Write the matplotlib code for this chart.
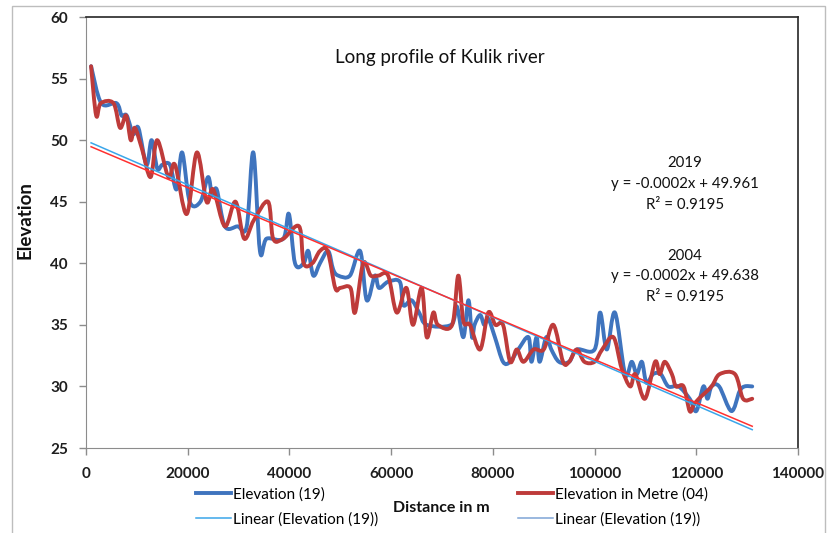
import numpy as np
import matplotlib
matplotlib.use("Agg")
import matplotlib.pyplot as plt
from matplotlib.path import Path
from matplotlib.patches import PathPatch, Rectangle
from matplotlib.lines import Line2D

plt.rcParams['font.family'] = ['Lato', 'DejaVu Sans']

# 2019 profile (distance m, elevation)
DIST_19 = [1000, 3000, 6000, 7000, 8000, 9300, 10300, 11900, 12900, 14000,
           15000, 16500, 17800, 18900, 20400, 22500, 24000, 24800, 25700, 27300,
           29800, 31600, 32900, 34200, 35500, 38800, 39900, 41100, 42800, 43700,
           44700, 46000, 47600, 48600, 49600, 51900, 53900, 55200, 56800, 57600,
           59400, 61700, 62400, 64000, 65500, 67000, 71800, 72900, 74200, 75200,
           75900, 76400, 77500, 78300, 79100, 80400, 82000, 83400, 85000, 87000,
           87600, 88600, 89200, 90500, 91500, 93000, 95000, 96500, 100000, 101100,
           102400, 104000, 106000, 107300, 108300, 109300, 110200, 111500, 113000, 114500,
           116500, 118700, 120000, 121400, 122200, 123000, 124500, 126900, 128500, 129500,
           131000]
ELEV_19 = [56, 53, 53, 52, 52, 50.5, 51, 48, 50, 47.7,
           48, 48, 46, 49, 45, 45, 47, 45.5, 46, 43,
           43, 43, 49, 41, 42, 42, 44, 40, 40, 41,
           39, 40, 41, 39.5, 39, 39, 41, 37, 39, 38,
           38.5, 38.5, 36.6, 37, 36, 35, 35, 36.5, 34, 37,
           34, 35, 35.8, 35, 35.5, 34, 32, 32, 33, 34,
           32, 34, 32, 34, 33, 32, 32, 33, 33, 36,
           33, 36, 31, 32, 31, 32, 30.3, 31, 31, 30,
           30, 29, 28, 30, 29, 30, 30, 28, 29.6, 30,
           30]

# 2004 profile
DIST_04 = [1000, 2000, 2900, 5400, 6700, 7900, 8800, 9600, 11000, 12700,
           14000, 16200, 17500, 19800, 21800, 23700, 25000, 27300, 29400, 31100,
           33000, 35800, 36800, 38800, 41900, 42800, 44500, 46000, 47500, 49000,
           50000, 52000, 52900, 54500, 56000, 57500, 59400, 61100, 63000, 64300,
           66000, 67000, 68300, 69200, 72000, 73200, 74200, 75500, 77500, 79100,
           80500, 82000, 83400, 84700, 86000, 88000, 90000, 91900, 93800, 95000,
           96500, 98000, 100000, 101500, 103700, 105300, 107000, 108000, 109900, 111900,
           112800, 113800, 115200, 116000, 117500, 118700, 119500, 120500, 123000, 124600,
           127600, 129200, 131000]
ELEV_04 = [56, 52, 53, 53, 51, 52, 50, 51, 49.3, 47,
           50, 47, 48, 44, 49, 45, 46, 43, 45, 42,
           43.5, 45, 42, 42, 43, 40, 40, 41, 41, 38,
           38, 38, 36, 40, 39, 39, 39, 36, 38, 35,
           38, 34, 36, 35, 35, 39, 35.3, 35, 33, 36,
           35, 35, 32, 33, 32, 33, 33, 35, 32, 32,
           33, 32, 32, 33, 34, 31.5, 30, 31, 29, 32,
           31, 32, 31, 30, 30, 28, 28.5, 29, 30, 31,
           31, 29, 29]

# linear trend (slope, intercept)
TREND_19 = (-0.0001792, 49.961)
TREND_04 = (-0.0001746, 49.638)

BLUE = "#3F74BE"
RED = "#BE3B3A"
TREND_BLUE = "#3AA6EA"
TREND_RED = "#FF3030"
LEG_LIN2 = "#7FA4D6"


def smooth_path(x, y):
    # excel style smoothed line: catmull-rom segments as cubic beziers
    pts = np.column_stack([x, y]).astype(float)
    ext = np.vstack([pts[0], pts, pts[-1]])
    verts = [pts[0]]
    codes = [Path.MOVETO]
    for i in range(1, len(ext) - 2):
        p0, p1, p2, p3 = ext[i - 1], ext[i], ext[i + 1], ext[i + 2]
        c1 = p1 + (p2 - p0) / 6.0
        c2 = p2 - (p3 - p1) / 6.0
        c1[0] = min(max(c1[0], p1[0]), p2[0])
        c2[0] = min(max(c2[0], p1[0]), p2[0])
        verts += [c1, c2, p2]
        codes += [Path.CURVE4] * 3
    return Path(verts, codes)


W, H = 828, 533
fig = plt.figure(figsize=(W / 100, H / 100), dpi=100)
fig.patches.append(Rectangle((12 / W, -0.05), (825 - 12) / W, 1.05 - 6 / H,
                             transform=fig.transFigure, fill=False,
                             edgecolor="#BDBDBD", lw=1.0))
ax = fig.add_axes([86 / W, 1 - 448 / H, 712 / W, 431 / H])

for d, e, c in [(DIST_19, ELEV_19, BLUE), (DIST_04, ELEV_04, RED)]:
    ax.add_patch(PathPatch(smooth_path(d, e), fill=False, edgecolor=c,
                           lw=2.8, joinstyle="round", capstyle="round"))

for d, (m, b), c in [(DIST_19, TREND_19, TREND_BLUE), (DIST_04, TREND_04, TREND_RED)]:
    xs = np.array([d[0], d[-1]], dtype=float)
    ax.plot(xs, m * xs + b, color=c, lw=1.1)

ax.set_xlim(0, 140000)
ax.set_ylim(25, 60)
ax.set_xticks(range(0, 140001, 20000))
ax.set_yticks(range(25, 61, 5))
ax.xaxis.set_major_formatter(matplotlib.ticker.StrMethodFormatter("{x:.0f}"))
ax.tick_params(direction="out", length=5, color="#8C8C8C", width=1,
               labelsize=11, labelcolor="#1E1E1E")
ax.tick_params(axis="y", pad=8)
ax.tick_params(axis="x", pad=9)
for lab in ax.get_xticklabels() + ax.get_yticklabels():
    lab.set_fontweight("bold")
for s in ["left", "bottom"]:
    ax.spines[s].set_color("#8C8C8C")
for s in ["top", "right"]:
    ax.spines[s].set_color("#262626")
    ax.spines[s].set_linewidth(1.2)

ax.text(0.497, 0.907, "Long profile of Kulik river", transform=ax.transAxes,
        ha="center", va="center", fontsize=13.5, color="#111111")

tx = (685 - 86) / 712
for yy, s in [(163, "2019"), (184, "y = -0.0002x + 49.961"), (205, "R\u00b2 = 0.9195"),
              (256, "2004"), (276, "y = -0.0002x + 49.638"), (297, "R\u00b2 = 0.9195")]:
    ax.text(tx, (448 - yy) / 431, s, transform=ax.transAxes, ha="center",
            va="center", fontsize=10.8, color="#111111")

ax.set_ylabel("Elevation", fontsize=13.5, fontweight="bold", color="#111111")
ax.yaxis.set_label_coords(-0.074, 0.53)
fig.text(441 / W, 1 - 508 / H, "Distance in m", ha="center", va="center",
         fontsize=11.5, fontweight="bold", color="#111111")

leg_a = [Line2D([], [], color=BLUE, lw=2.8), Line2D([], [], color=TREND_BLUE, lw=1.1)]
leg_b = [Line2D([], [], color=RED, lw=2.8), Line2D([], [], color=LEG_LIN2, lw=1.1)]
for hs, labs, x0 in [(leg_a, ["Elevation (19)", "Linear (Elevation (19))"], 196),
                     (leg_b, ["Elevation in Metre (04)", "Linear (Elevation (19))"], 518)]:
    fig.legend(hs, labs, loc="center left", bbox_to_anchor=(x0 / W, 1 - 507 / H),
               frameon=False, fontsize=11, handlelength=2.3, handletextpad=0.15,
               borderpad=0, borderaxespad=0, labelspacing=0.7)

fig.savefig("out.png", dpi=100)
